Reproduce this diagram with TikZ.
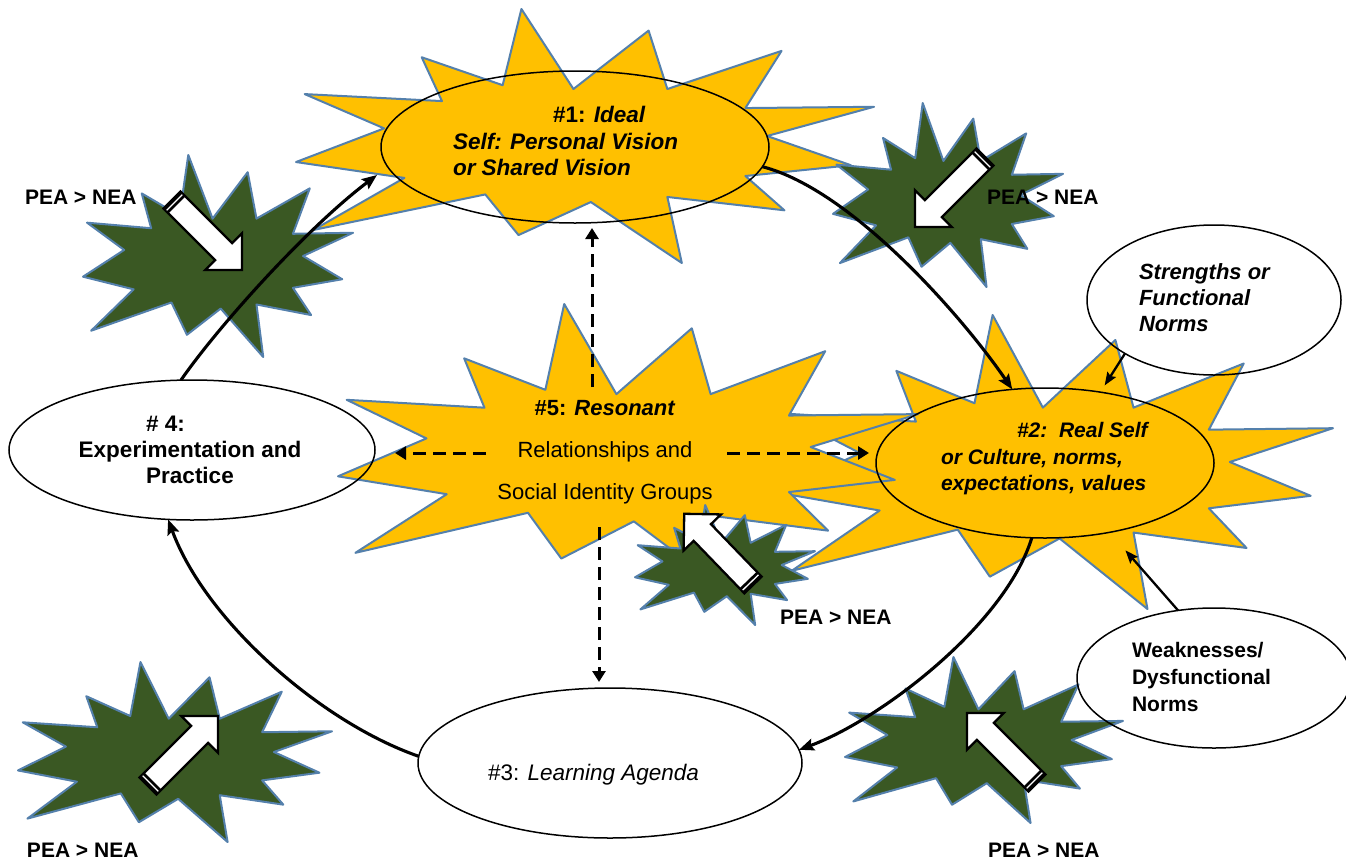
\documentclass[tikz,border=0pt]{standalone}
\usepackage{fontspec}
\setmainfont{Liberation Sans}
\usetikzlibrary{arrows.meta,shapes.geometric}
\definecolor{gold}{RGB}{255,192,0}
\definecolor{sealgreen}{RGB}{58,88,35}
\definecolor{sealedge}{RGB}{84,128,172}
\tikzset{
  ystar/.style={fill=gold,draw=sealedge,line width=2pt,line join=round},
  gstar/.style={fill=sealgreen,draw=sealedge,line width=2pt,line join=round},
  oval/.style={ellipse,draw=black,line width=1.5pt,inner sep=0pt,outer sep=0pt},
  cyc/.style={line width=3.1pt,-{Stealth[length=15pt,width=12pt,inset=2.5pt]}},
  dsh/.style={line width=3pt,dash pattern=on 13pt off 7pt,-{Triangle[length=11pt,width=13pt]}},
  feed/.style={line width=2.3pt,-{Stealth[length=13pt,width=10pt,inset=2pt]}},
  txt/.style={inner sep=0pt,outer sep=0pt,anchor=west,align=left},
  pea/.style={txt,font=\bfseries\fontsize{21}{25}\selectfont},
}
\newcommand\seal[5]{%
  \begin{scope}[shift={(#2,#3)},xscale=#4,yscale=#5]
    \draw[#1] (-0.22,-1.0) -- (-0.04,-0.37) -- (0.22,-0.83) -- (0.285,-0.37)
      -- (0.68,-0.67) -- (0.555,-0.22) -- (1.0,-0.23) -- (0.63,0.0)
      -- (0.92,0.23) -- (0.555,0.315) -- (0.69,0.585) -- (0.285,0.48)
      -- (0.335,1.0) -- (0.02,0.52) -- (-0.23,0.78) -- (-0.345,0.46)
      -- (-0.94,0.74) -- (-0.625,0.33) -- (-1.0,0.205) -- (-0.695,-0.06)
      -- (-0.97,-0.33) -- (-0.495,-0.275) -- (-0.565,-0.62) -- (-0.285,-0.40) -- cycle;
  \end{scope}}
\newcommand\blockarr[3]{%
  \begin{scope}[shift={(#1,#2)},rotate=#3]
    \draw[fill=white,line width=2.3pt,line join=miter] (0,-12) -- (73,-12) -- (73,-26)
      -- (99,0) -- (73,26) -- (73,12) -- (0,12) -- cycle;
    \fill[black] (0,-12) rectangle (7,12);
    \draw[white,line width=1.3pt] (3.5,-11) -- (3.5,11);
  \end{scope}}
\begin{document}
\begin{tikzpicture}[x=1pt,y=-1pt]
\useasboundingbox (0,0) rectangle (1346,865);
\fill[white] (0,0) rectangle (1346,865);

% yellow bursts
\seal{ystar}{1054}{462}{279}{147}
\seal{ystar}{628}{447}{290}{143}
\seal{ystar}{585}{136}{289}{127}
% green bursts
\seal{gstar}{218}{256}{135}{101}
\seal{gstar}{948}{195}{115}{92}
\seal{gstar}{725}{565}{90}{60}
\seal{gstar}{175}{752}{157}{90}
\seal{gstar}{984}{740}{139}{83}

% block arrows
\blockarr{172}{200}{-45}
\blockarr{985}{157}{-135}
\blockarr{753}{585}{134}
\blockarr{148}{786}{45}
\blockarr{1037}{783}{135}

% ellipses
\node[oval,minimum width=388pt,minimum height=152pt] (e1) at (575,147) {};
\node[oval,minimum width=338pt,minimum height=150pt] (e2) at (1045,463) {};
\node[oval,minimum width=384pt,minimum height=150pt] (e3) at (610,763) {};
\node[oval,minimum width=366pt,minimum height=140pt] (e4) at (192,450) {};
\node[oval,minimum width=254pt,minimum height=150pt] (es) at (1214,300) {};
\node[oval,minimum width=274pt,minimum height=140pt] (ew) at (1214,678) {};

% texts
\node[txt,font=\bfseries\fontsize{22.5}{26.5}\selectfont] (t1) at (453,141)
  {\hspace*{100pt}\#1: \textit{Ideal}\\\textit{Self: Personal Vision}\\\textit{or Shared Vision}};
\node[txt,font=\bfseries\itshape\fontsize{21}{26.5}\selectfont] (t2) at (941,459)
  {\hspace*{76pt}\#2:\ \ Real Self\\or Culture, norms,\\expectations, values};
\node[txt,font=\fontsize{22.5}{27}\selectfont] (t3) at (488,775) {\#3: \textit{Learning Agenda}};
\node[inner sep=0pt,align=center,font=\bfseries\fontsize{22.5}{26}\selectfont] (t4) at (190,450)
  {\makebox[0pt][l]{\#\ 4:}\hphantom{Practice}\\Experimentation and\\Practice};
\node[inner sep=0pt,align=center,font=\fontsize{22}{42}\selectfont] (t5) at (605,452)
  {\textbf{\#5: \textit{Resonant}}\\Relationships and\\Social Identity Groups};
\node[txt,font=\bfseries\itshape\fontsize{22}{26}\selectfont] (ts) at (1139,298) {Strengths or\\Functional\\Norms};
\node[txt,font=\bfseries\fontsize{21}{27}\selectfont] (tw) at (1132,677) {Weaknesses/\\Dysfunctional\\Norms};

\node[pea] (p1) at (25,197) {PEA > NEA};
\node[pea] (p2) at (987,197) {PEA > NEA};
\node[pea] (p3) at (780,617) {PEA > NEA};
\node[pea] (p4) at (27,850) {PEA > NEA};
\node[pea] (p5) at (988,850) {PEA > NEA};

% cycle connectors
\coordinate (c41) at (377,175);
\draw[cyc] (e4.99) .. controls (220,324) and (308,227) .. (c41);
\draw[cyc] (e1.-6) .. controls (853,190) and (965,320) .. (e2.114);
\draw[cyc] (e2.260) .. controls (1005,625) and (880,720) .. (e3.4);
\draw[cyc] (e3.178) .. controls (320,722) and (205,620) .. (e4.251);

% dashed connectors from #5
\coordinate (du0) at (592,387); \coordinate (du1) at (592,228);
\coordinate (dd0) at (599,527); \coordinate (dd1) at (599,682);
\coordinate (dl0) at (486,453); \coordinate (dl1) at (395,453);
\coordinate (dr0) at (727,453); \coordinate (dr1) at (869,453);
\draw[dsh] (du0) -- (du1);
\draw[dsh] (dd0) -- (dd1);
\draw[dsh] (dl0) -- (dl1);
\draw[dsh] (dr0) -- (dr1);

% strengths / weaknesses feeds
\draw[feed,shorten >=8pt] (es.211) -- (e2.52);
\draw[feed,shorten >=24pt] (ew.118) -- (e2.-47);
\end{tikzpicture}
\end{document}
